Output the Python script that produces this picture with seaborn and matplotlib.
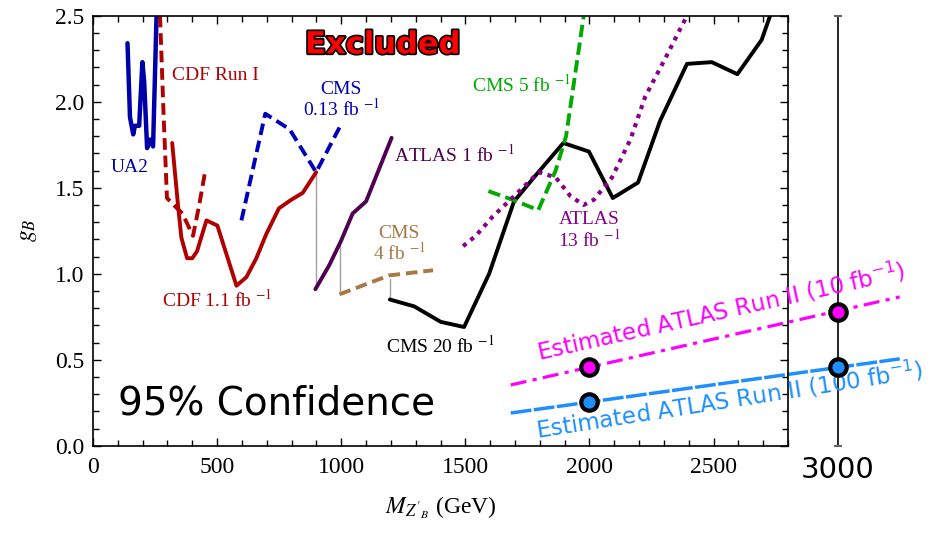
import matplotlib
matplotlib.use("Agg")
import matplotlib.pyplot as plt
import matplotlib.patheffects as pe
from matplotlib.ticker import MultipleLocator
import seaborn as sns

# curves (mass in GeV, coupling g_B)
ua2_x = [139, 149, 162, 169, 186, 199, 206, 218, 229, 242, 256]
ua2_y = [2.34, 1.91, 1.81, 1.86, 1.86, 2.23, 2.12, 1.73, 1.78, 1.74, 2.50]

cdf1_x = [270, 285, 298, 318, 360, 403, 428, 450]
cdf1_y = [2.50, 1.90, 1.44, 1.41, 1.35, 1.22, 1.40, 1.58]

cdf11_x = [319, 343, 356, 379, 400, 419, 457, 501, 578, 618, 658, 698, 749, 799, 845, 899]
cdf11_y = [1.76, 1.39, 1.21, 1.09, 1.09, 1.13, 1.31, 1.28, 0.93, 0.98, 1.09, 1.23, 1.38, 1.43, 1.47, 1.59]

cms013_x = [598, 694, 792, 899, 993]
cms013_y = [1.31, 1.93, 1.84, 1.59, 1.85]

atlas1_x = [896, 952, 999, 1046, 1100, 1203]
atlas1_y = [0.91, 1.05, 1.19, 1.35, 1.42, 1.79]

cms4_x = [993, 1193, 1370]
cms4_y = [0.88, 0.99, 1.02]

cms20_x = [1196, 1294, 1401, 1495, 1596, 1696, 1794, 1895, 1998, 2094, 2196, 2285, 2393, 2493, 2596, 2694, 2728]
cms20_y = [0.85, 0.81, 0.72, 0.69, 1.00, 1.42, 1.59, 1.76, 1.71, 1.44, 1.53, 1.89, 2.22, 2.23, 2.16, 2.36, 2.50]

cms5_x = [1593, 1690, 1794, 1864, 1906, 1977]
cms5_y = [1.48, 1.43, 1.37, 1.60, 1.80, 2.50]

atlas13_x = [1491, 1542, 1609, 1703, 1796, 1864, 1924, 1977, 2018, 2091, 2165, 2225, 2305, 2393]
atlas13_y = [1.16, 1.22, 1.33, 1.46, 1.59, 1.56, 1.45, 1.40, 1.43, 1.56, 1.78, 2.03, 2.25, 2.50]

# thin grey connectors between curves
conn_x = [899, 997, 1196]
conn_lo = [0.91, 0.90, 0.85]
conn_hi = [1.59, 1.17, 0.97]

# estimated ATLAS Run II reach
est_x = [1683, 3250]
est10_y = [0.353, 0.865]
est100_y = [0.190, 0.505]
pts_x = [2000, 3000]
pts10_y = [0.455, 0.780]
pts100_y = [0.255, 0.455]

sns.set_style("ticks", {"axes.edgecolor": "black", "text.color": "black",
                        "xtick.color": "black", "ytick.color": "black",
                        "axes.labelcolor": "black"})
plt.rcParams['font.family'] = ['Liberation Serif', 'DejaVu Serif']
plt.rcParams['mathtext.fontset'] = 'stix'

fig = plt.figure(figsize=(9.32, 5.35), dpi=100)
ax = fig.add_axes([93 / 932, 1 - 445.7 / 535, 695 / 932, 430 / 535])

red = '#b00000'
lw = 2.8
sns.lineplot(x=ua2_x, y=ua2_y, ax=ax, color='#0000aa', lw=3.2, sort=False)
sns.lineplot(x=cdf1_x, y=cdf1_y, ax=ax, color=red, lw=lw, sort=False, linestyle=(0, (3, 1.5)))
sns.lineplot(x=cdf11_x, y=cdf11_y, ax=ax, color=red, lw=lw, sort=False)
sns.lineplot(x=cms013_x, y=cms013_y, ax=ax, color='#0000bb', lw=lw, sort=False, linestyle=(0, (3, 1.5)))
sns.lineplot(x=atlas1_x, y=atlas1_y, ax=ax, color='#500050', lw=lw, sort=False)
sns.lineplot(x=cms4_x, y=cms4_y, ax=ax, color='#a87845', lw=lw, sort=False, linestyle=(0, (3, 1.5)))
sns.lineplot(x=cms20_x, y=cms20_y, ax=ax, color='black', lw=lw, sort=False)
sns.lineplot(x=cms5_x, y=cms5_y, ax=ax, color='#00aa00', lw=lw, sort=False, linestyle=(0, (3.2, 1.4)))
sns.lineplot(x=atlas13_x, y=atlas13_y, ax=ax, color='#880088', lw=3, sort=False, linestyle=(0, (1, 1.3)))
for cx, lo, hi in zip(conn_x, conn_lo, conn_hi):
    ax.plot([cx, cx], [lo, hi], color='#a0a0a0', lw=1, zorder=1)

# projection lines and points (extend past the frame)
sns.lineplot(x=est_x, y=est10_y, ax=ax, color='#ff00ff', lw=2.3, sort=False,
             linestyle=(0, (5, 2, 1.3, 2)), clip_on=False)
sns.lineplot(x=est_x, y=est100_y, ax=ax, color='#1e8fff', lw=2.5, sort=False,
             linestyle=(0, (6, 0.7)), clip_on=False)
ax.plot([3000, 3000], [0, 2.5], color='black', lw=1.2, clip_on=False, zorder=3)
ax.plot([3000, 3000], [0, 2.5], ls='none', marker='_', ms=6, mew=1.5, color='#666666',
        clip_on=False, zorder=3)
sns.scatterplot(x=pts_x, y=pts10_y, ax=ax, color='#ff00ff', s=140, edgecolor='black',
                linewidth=3, clip_on=False, zorder=5)
sns.scatterplot(x=pts_x, y=pts100_y, ax=ax, color='#1e8fff', s=140, edgecolor='black',
                linewidth=3, clip_on=False, zorder=5)

# labels
fs = 14
ax.text(149, 1.62, 'UA2', color='#0000aa', fontsize=fs, ha='center', va='center')
ax.text(317, 2.155, 'CDF Run I', color=red, fontsize=fs, ha='left', va='center')
ax.text(1000, 2.01, 'CMS\n0.13 fb $^{-1}$', color='#0000bb', fontsize=fs, ha='center', va='center',
        linespacing=1.0)
ax.text(1214, 1.69, 'ATLAS 1 fb $^{-1}$', color='#500050', fontsize=fs, ha='left', va='center')
ax.text(1234, 1.17, 'CMS\n4 fb $^{-1}$', color='#a87845', fontsize=fs, ha='center', va='center',
        linespacing=1.0)
ax.text(277, 0.85, 'CDF 1.1 fb $^{-1}$', color=red, fontsize=fs, ha='left', va='center')
ax.text(1182, 0.585, 'CMS 20 fb $^{-1}$', color='black', fontsize=fs, ha='left', va='center')
ax.text(1527, 2.10, 'CMS 5 fb $^{-1}$', color='#00aa00', fontsize=fs, ha='left', va='center')
ax.text(1998, 1.25, 'ATLAS\n13 fb $^{-1}$', color='#880088', fontsize=fs, ha='center', va='center',
        linespacing=1.0)

ax.text(1166, 2.33, 'Excluded', color='red', fontsize=22, fontweight='bold', family='DejaVu Sans',
        ha='center', va='center', path_effects=[pe.withStroke(linewidth=2.5, foreground='black')])
ax.text(100, 0.184, '95% Confidence', fontsize=28, color='black', family='DejaVu Sans',
        ha='left', va='baseline')
ax.text(1797, 0.494, 'Estimated ATLAS Run II (10 fb$^{-1}$)', color='#ff00ff', fontsize=16.5,
        family='DejaVu Sans', rotation=12.6, rotation_mode='anchor', ha='left', va='baseline',
        math_fontfamily='dejavusans', clip_on=False)
ax.text(1790, 0.043, 'Estimated ATLAS Run II (100 fb$^{-1}$)', color='#1e8fff', fontsize=16.5,
        family='DejaVu Sans', rotation=8.9, rotation_mode='anchor', ha='left', va='baseline',
        math_fontfamily='dejavusans', clip_on=False)
ax.text(3000, -0.06, '3000', fontsize=21, color='black', family='DejaVu Sans',
        ha='center', va='top', clip_on=False)

ax.set_xlim(0, 2800)
ax.set_ylim(0, 2.5)
ax.xaxis.set_major_locator(MultipleLocator(500))
ax.xaxis.set_minor_locator(MultipleLocator(100))
ax.yaxis.set_major_locator(MultipleLocator(0.5))
ax.yaxis.set_minor_locator(MultipleLocator(0.1))
ax.yaxis.set_major_formatter(plt.FuncFormatter(lambda v, p: f"{v:.1f}"))
ax.tick_params(which='both', direction='in', top=True, right=True, labelsize=17, width=1)
ax.tick_params(which='major', length=6)
ax.tick_params(which='minor', length=4)
ax.tick_params(axis='x', pad=8)
ax.tick_params(axis='y', pad=6)
for s in ax.spines.values():
    s.set_linewidth(1.2)
    s.set_visible(True)

ax.set_xlabel("$M_{Z'_B}$ (GeV)", fontsize=17, labelpad=12)
ax.set_ylabel('$g_B$', fontsize=17, labelpad=12)

plt.savefig('out.png', dpi=100)
plt.close()
